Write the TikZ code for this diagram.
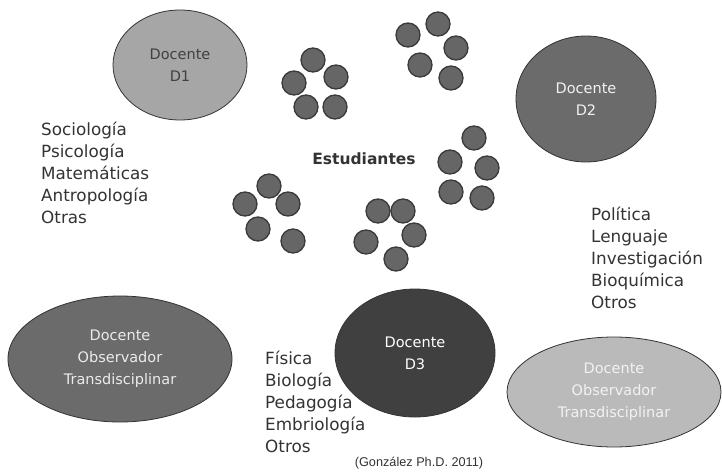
\documentclass[tikz,border=0pt]{standalone}
\usepackage{fontspec}
\setmainfont{DejaVu Sans}
\newfontfamily\citefont{Liberation Sans}
\usetikzlibrary{shapes.geometric}
\definecolor{inkdark}{HTML}{333333}
\definecolor{studentfill}{HTML}{666666}
\definecolor{studentline}{HTML}{3A3A3A}
\begin{document}
\begin{tikzpicture}[x=1pt,y=-1pt,
  alumno/.style={circle, draw=studentline, fill=studentfill, line width=1.3pt,
                 minimum size=24pt, inner sep=0pt},
  docente/.style={ellipse, draw=black!80, line width=0.8pt, inner sep=0pt,
                  align=center, font=\fontsize{14.5}{22}\selectfont},
  lista/.style={anchor=west, align=left, inner sep=0pt, text=inkdark,
                font=\fontsize{16.8}{22}\selectfont}]
\useasboundingbox (0,0) rectangle (722,471);

% teachers
\node[docente, fill=black!35, text=black!75, minimum width=134pt, minimum height=110pt]
  (d1) at (180,65) {Docente\\D1};
\node[docente, fill=black!58, text=black!5, minimum width=140pt, minimum height=126pt]
  (d2) at (586,99) {Docente\\D2};
\node[docente, fill=black!75, text=white, minimum width=160pt, minimum height=128pt]
  (d3) at (415,353) {Docente\\D3};
\node[docente, fill=black!58, text=black!8, minimum width=224pt, minimum height=126pt]
  (obsl) at (120,359) {Docente\\Observador\\Transdisciplinar};
\node[docente, fill=black!27, text=black!5, minimum width=214pt, minimum height=110pt]
  (obsr) at (614,392) {Docente\\Observador\\Transdisciplinar};

% students
\foreach \n/\x/\y in {a1/294/83, a2/313/60, a3/336/77, a4/306/107, a5/335/107,
                      b1/438/24, b2/408/35, b3/456/48, b4/420/65, b5/451/78,
                      c1/474/138, c2/450/162, c3/487/168, c4/451/192, c5/482/198,
                      e1/269/186, e2/245/204, e3/288/204, e4/258/229, e5/293/241,
                      f1/378/211, f2/403/211, f3/414/235, f4/366/242, f5/396/259}
  \node[alumno] (\n) at (\x,\y) {};

\node[font=\bfseries\fontsize{15.5}{17}\selectfont, text=inkdark] (est) at (364,159) {Estudiantes};

% disciplines
\node[lista] (l1) at (41,173) {Sociología\\Psicología\\Matemáticas\\Antropología\\Otras};
\node[lista] (l2) at (591,258) {Política\\Lenguaje\\Investigación\\Bioquímica\\Otros};
\node[lista] (l3) at (265,402) {Física\\Biología\\Pedagogía\\Embriología\\Otros};

\node[font=\citefont\fontsize{12.7}{14}\selectfont, text=inkdark] (cita) at (419,463)
  {(González Ph.D. 2011)};
\end{tikzpicture}
\end{document}
